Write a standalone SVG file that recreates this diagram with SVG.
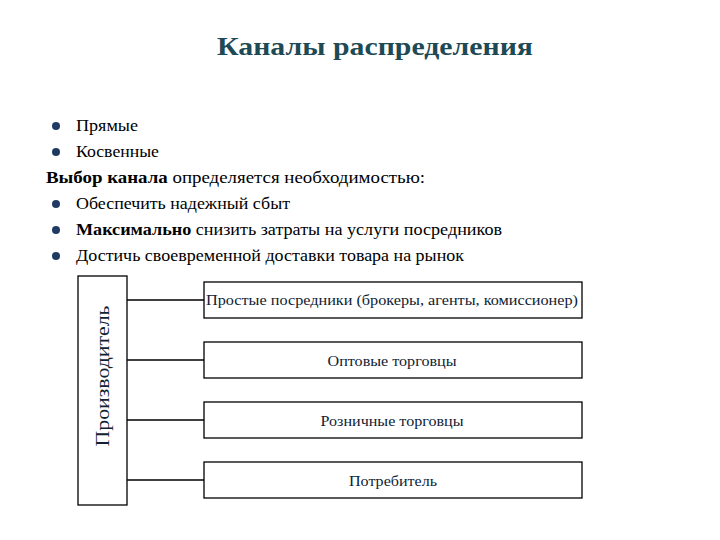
<svg xmlns="http://www.w3.org/2000/svg" width="720" height="540" viewBox="0 0 720 540">
<style>
text{font-family:"Liberation Serif","Times New Roman",serif;fill:#000}
.t{font-size:16.5px}
.b{font-weight:bold}
.bx{fill:#fff;stroke:#000;stroke-width:1.3}
.n{font-size:15px;fill:#0e2233;text-anchor:middle}
.c line{stroke:#000;stroke-width:1.3}
.dot{fill:#1f3b63}
</style>
<rect width="720" height="540" fill="#fff"/>
<text x="375" y="55" font-size="26" font-weight="bold" text-anchor="middle" textLength="316" lengthAdjust="spacingAndGlyphs" style="fill:#1e4a55">Каналы распределения</text>
<circle class="dot" cx="56" cy="126" r="4"/>
<text class="t" x="76" y="131" textLength="62" lengthAdjust="spacingAndGlyphs">Прямые</text>
<circle class="dot" cx="56" cy="152" r="4"/>
<text class="t" x="76" y="157" textLength="83" lengthAdjust="spacingAndGlyphs">Косвенные</text>
<text class="t" x="46" y="183" textLength="379" lengthAdjust="spacingAndGlyphs"><tspan class="b">Выбор канала</tspan> определяется необходимостью:</text>
<circle class="dot" cx="56" cy="204" r="4"/>
<text class="t" x="76" y="209" textLength="214" lengthAdjust="spacingAndGlyphs">Обеспечить надежный сбыт</text>
<circle class="dot" cx="56" cy="230" r="4"/>
<text class="t" x="76" y="235" textLength="426" lengthAdjust="spacingAndGlyphs"><tspan class="b">Максимально</tspan> снизить затраты на услуги посредников</text>
<circle class="dot" cx="56" cy="256" r="4"/>
<text class="t" x="76" y="261" textLength="388" lengthAdjust="spacingAndGlyphs">Достичь своевременной доставки товара на рынок</text>
<g class="c">
<line x1="127" y1="300" x2="204" y2="300"/>
<line x1="127" y1="360" x2="204" y2="360"/>
<line x1="127" y1="420" x2="204" y2="420"/>
<line x1="127" y1="480" x2="204" y2="480"/>
</g>
<g id="producer"><rect class="bx" x="78" y="276" width="49" height="229"/>
<text font-size="18" text-anchor="middle" textLength="141" lengthAdjust="spacingAndGlyphs" transform="translate(109,376) rotate(-90)" style="fill:#0e2233">Производитель</text></g>
<g id="n1"><rect class="bx" x="204" y="282" width="378" height="36"/><text class="n" x="392" y="305" textLength="372" lengthAdjust="spacingAndGlyphs">Простые посредники (брокеры, агенты, комиссионер)</text></g>
<g id="n2"><rect class="bx" x="204" y="342" width="378" height="36"/><text class="n" x="392" y="366" textLength="129" lengthAdjust="spacingAndGlyphs">Оптовые торговцы</text></g>
<g id="n3"><rect class="bx" x="204" y="402" width="378" height="36"/><text class="n" x="392" y="426" textLength="143" lengthAdjust="spacingAndGlyphs">Розничные торговцы</text></g>
<g id="n4"><rect class="bx" x="204" y="462" width="378" height="36"/><text class="n" x="393" y="486" textLength="88" lengthAdjust="spacingAndGlyphs">Потребитель</text></g>
</svg>
